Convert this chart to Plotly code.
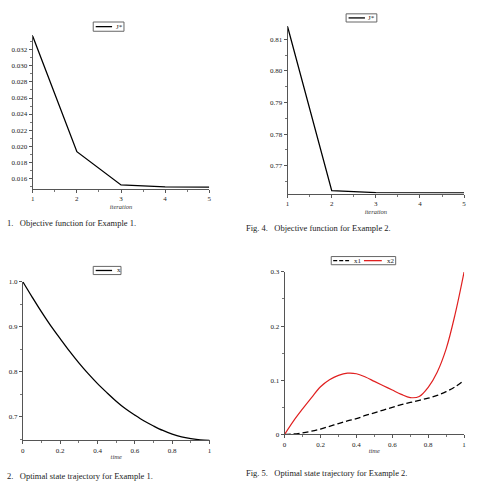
import plotly.graph_objects as go

# ---------------- data ----------------
iterations = [1, 2, 3, 4, 5]
j_example1 = [0.0337, 0.0193, 0.01515, 0.01490, 0.01488]
j_example2 = [0.8140, 0.7621, 0.7615, 0.7614, 0.7614]

time = [0.00, 0.05, 0.10, 0.15, 0.20, 0.25, 0.30, 0.35, 0.40, 0.45, 0.50,
        0.55, 0.60, 0.65, 0.70, 0.75, 0.80, 0.85, 0.90, 0.95, 1.00]
x_example1 = [1.000, 0.966, 0.933, 0.902, 0.874, 0.846, 0.820, 0.796, 0.774, 0.754, 0.735,
              0.718, 0.704, 0.691, 0.680, 0.670, 0.662, 0.656, 0.652, 0.649, 0.648]
x1_example2 = [0.000, 0.0008, 0.003, 0.006, 0.010, 0.015, 0.020, 0.025, 0.029, 0.035, 0.040,
               0.045, 0.050, 0.055, 0.059, 0.063, 0.067, 0.072, 0.079, 0.088, 0.100]
x2_example2 = [0.000, 0.025, 0.047, 0.068, 0.088, 0.101, 0.109, 0.113, 0.112, 0.106, 0.098,
               0.090, 0.082, 0.074, 0.068, 0.070, 0.087, 0.115, 0.158, 0.222, 0.300]

captions = ["1.   Objective function for Example 1.",
            "Fig. 4.   Objective function for Example 2.",
            "2.   Optimal state trajectory for Example 1.",
            "Fig. 5.   Optimal state trajectory for Example 2."]

W, H = 478, 496
SERIF = "Liberation Serif"


def px(x):
    return x / W


def py(y):
    return 1 - y / H


fig = go.Figure()
fig.add_trace(go.Scatter(x=iterations, y=j_example1, mode="lines", xaxis="x", yaxis="y",
                         line=dict(color="black", width=1.3), showlegend=False))
fig.add_trace(go.Scatter(x=iterations, y=j_example2, mode="lines", xaxis="x2", yaxis="y2",
                         line=dict(color="black", width=1.3), showlegend=False))
fig.add_trace(go.Scatter(x=time, y=x_example1, mode="lines", xaxis="x3", yaxis="y3",
                         line=dict(color="black", width=1.3, shape="spline", smoothing=1.0),
                         showlegend=False))
fig.add_trace(go.Scatter(x=time, y=x1_example2, mode="lines", xaxis="x4", yaxis="y4",
                         line=dict(color="black", width=1.3, dash="6px,3px", shape="spline"),
                         showlegend=False))
fig.add_trace(go.Scatter(x=time, y=x2_example2, mode="lines", xaxis="x4", yaxis="y4",
                         line=dict(color="#e02020", width=1.2, shape="spline"), showlegend=False))

tickfont = dict(family=SERIF, size=7, color="#222")
axis_common = dict(showline=True, linecolor="#555", linewidth=1, ticks="outside", ticklen=3,
                   tickcolor="#555", tickwidth=1, showgrid=False, zeroline=False,
                   tickfont=tickfont, ticklabelstandoff=0)


def xax(domain, anchor, rng, dtick, minor, title):
    d = dict(axis_common)
    d.update(domain=domain, anchor=anchor, range=rng, dtick=dtick, tick0=rng[0],
             minor=dict(dtick=minor, ticks="outside", ticklen=2, tickcolor="#777"),
             title=dict(text="<i>%s</i>" % title, font=dict(family=SERIF, size=6.5, color="#333"),
                        standoff=0))
    return d


def yax(domain, anchor, rng, dtick, tick0, minor, fmt):
    d = dict(axis_common)
    d.update(domain=domain, anchor=anchor, range=rng, dtick=dtick, tick0=tick0, tickformat=fmt,
             minor=dict(dtick=minor, tick0=tick0, ticks="outside", ticklen=2, tickcolor="#777"))
    return d


fig.update_layout(
    width=W, height=H, margin=dict(l=0, r=0, t=0, b=0),
    paper_bgcolor="white", plot_bgcolor="white",
    xaxis=xax([px(31), px(209)], "y", [1, 5], 1, 0.5, "iteration"),
    yaxis=yax([py(188), py(32)], "x", [0.01465, 0.0338], 0.002, 0.016, 0.001, ".3f"),
    xaxis2=xax([px(288), px(466)], "y2", [1, 5], 1, 0.5, "iteration"),
    yaxis2=yax([py(192.7), py(22.7)], "x2", [0.7612, 0.8141], 0.01, 0.77, 0.005, ".2f"),
    xaxis3=xax([px(21), px(209.3)], "y3", [0, 1], 0.2, 0.1, "time"),
    yaxis3=yax([py(443.3), py(282.3)], "x3", [0.6485, 1.0], 0.1, 0.7, 0.05, ".1f"),
    xaxis4=xax([px(285), px(466)], "y4", [0, 1], 0.2, 0.1, "time"),
    yaxis4=yax([py(437.5), py(272.3)], "x4", [0, 0.3], 0.1, 0, 0.05, ""),
)

shapes = []
annotations = []

# captions
cap_pos = [(3, 223), (244, 228), (3, 480), (244, 477)]
for text, (cx, cy) in zip(captions, cap_pos):
    annotations.append(dict(text=text, x=px(cx), y=py(cy), xref="paper", yref="paper",
                            xanchor="left", yanchor="middle", showarrow=False,
                            font=dict(family=SERIF, size=8.5, color="#222")))

# legends (boxes drawn in the style of the original plots)
legend_font = dict(family=SERIF, size=7, color="#222")


def legend_box(x0, x1, y0, y1, items):
    shapes.append(dict(type="rect", xref="paper", yref="paper", x0=px(x0), x1=px(x1),
                       y0=py(y1), y1=py(y0), line=dict(color="#666", width=1),
                       fillcolor="white"))
    yc = (y0 + y1) / 2
    for (lx0, lx1, color, dash, label, tx) in items:
        shapes.append(dict(type="line", xref="paper", yref="paper", x0=px(lx0), x1=px(lx1),
                           y0=py(yc), y1=py(yc), line=dict(color=color, width=1.3, dash=dash)))
        annotations.append(dict(text=label, x=px(tx), y=py(yc), xref="paper", yref="paper",
                                xanchor="left", yanchor="middle", showarrow=False,
                                font=legend_font))


legend_box(92, 123, 18.3, 27.7, [(94.5, 111, "black", "solid", "J*", 113)])
legend_box(347, 378, 10, 18.3, [(349.5, 366, "black", "solid", "J*", 367.5)])
legend_box(92, 120, 266.7, 275, [(94.5, 111, "black", "solid", "x", 113.5)])
legend_box(332, 397, 256.7, 265, [(334, 350, "black", "4px,2px", "x1", 353),
                                  (365, 383, "#e02020", "solid", "x2", 386)])

fig.update_layout(shapes=shapes, annotations=annotations)
fig.write_html("out.html")
